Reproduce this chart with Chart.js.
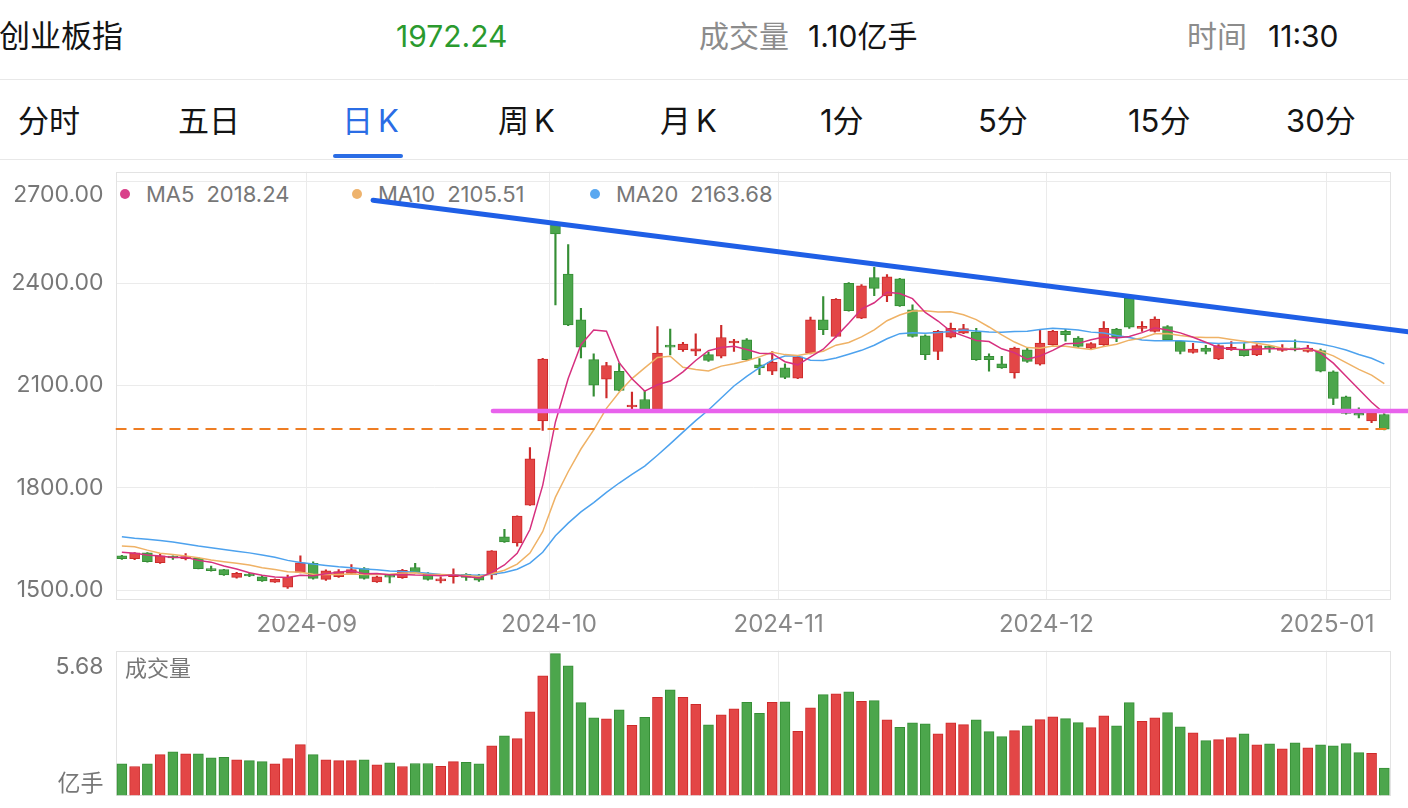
<!DOCTYPE html>
<html>
<head>
<meta charset="UTF-8">
<title>创业板指 日K</title>
<style>
  html, body { margin: 0; padding: 0; background: #fff; }
  body { position: relative; width: 1408px; height: 808px; overflow: hidden;
         font-family: Inter, "Noto Sans CJK SC", sans-serif; color: #141414; }
  .txt { position: absolute; white-space: nowrap; line-height: 1; }
  .head { top: 21px; font-size: 30px; }
  .gray { color: #8c8c8c; }
  .tab { top: 105px; font-size: 31px; }
  .rule { position: absolute; left: 0; width: 1408px; height: 1px; background: #e8e8e8; }
  .lg { position: absolute; top: 183px; height: 22px; display: flex; align-items: center;
        font-size: 22px; line-height: 22px; color: #777; white-space: nowrap; }
  .lg i { width: 10px; height: 10px; border-radius: 50%; margin-right: 16px; }
  .lg b { font-weight: normal; margin-left: 12px; }
  canvas { position: absolute; left: 0; }
</style>
</head>
<body>
	<!-- 상단 정보 -->
	<div class="txt head" style="left:-1px; top:20px; font-size:31px">创业板指</div>
	<div class="txt head" id="price" style="left:396px; color:#2b9a2e"></div>
	<div class="txt head gray" style="left:699px">成交量</div>
	<div class="txt head" id="vol" style="left:808px"></div>
	<div class="txt head gray" style="left:1187px">时间</div>
	<div class="txt head" style="left:1268px">11:30</div>
	<div class="rule" style="top:79px"></div>

	<!-- 탭 -->
	<div class="txt tab" style="left:18px">分时</div>
	<div class="txt tab" style="left:178px">五日</div>
	<div class="txt tab" style="left:342px; color:#2b6de5">日<span style="margin-left:5px">K</span></div>
	<div class="txt tab" style="left:498px">周<span style="margin-left:5px">K</span></div>
	<div class="txt tab" style="left:660px">月<span style="margin-left:5px">K</span></div>
	<div class="txt tab" style="left:820px">1分</div>
	<div class="txt tab" style="left:978px">5分</div>
	<div class="txt tab" style="left:1128px">15分</div>
	<div class="txt tab" style="left:1286px">30分</div>
	<div style="position:absolute; left:333px; top:154px; width:70px; height:4px; border-radius:2px; background:#2b6de5"></div>
	<div class="rule" style="top:159px"></div>

	<!-- 범례 (캔버스 뒤) -->
	<div class="lg" style="left:120px"><i style="background:#d9408a"></i><span>MA5</span><b id="m5"></b></div>
	<div class="lg" style="left:352px"><i style="background:#eeb36d"></i><span>MA10</span><b id="m10"></b></div>
	<div class="lg" style="left:590px"><i style="background:#5aa8f0"></i><span>MA20</span><b id="m20"></b></div>

	<script src="https://cdn.jsdelivr.net/npm/chart.js"></script>

	<canvas id="kc" width="1408" height="480" style="top:160px"></canvas>
	<canvas id="vc" width="1408" height="168" style="top:640px"></canvas>
	<div class="txt" style="left:125px; top:657px; font-size:22px; color:#777">成交量</div>

	<script>
		// 월 구분 (첫 거래일 인덱스)
		const monthLabels = ['2024-09', '2024-10', '2024-11', '2024-12', '2025-01'];
		const monthStart = [15, 34, 52, 73, 95];
		const priceTicks = [1500, 1800, 2100, 2400, 2700];

		// 일봉 OHLC
		const open = [1600,1592,1609,1580,1597,1592,1593,1562,1560,1537,
			1547,1539,1523,1508,1552,1578,1531,1539,1549,1563,
			1524,1541,1536,1566,1549,1527,1539,1546,1541,1544,
			1656,1638,1749,1996,2572,2427,2293,2176,2119,2142,
			2037,2059,2030,2218,2205,2201,2191,2186,2225,2234,
			2161,2142,2152,2122,2195,2293,2244,2400,2298,2417,
			2363,2413,2322,2246,2200,2242,2254,2257,2186,2164,
			2137,2205,2163,2220,2259,2239,2210,2220,2266,2356,
			2268,2259,2273,2230,2197,2210,2178,2205,2205,2190,
			2215,2203,2210,2200,2203,2140,2067,2018,1996,2015];
		const high = [1602,1610,1610,1605,1600,1607,1596,1570,1561,1552,
			1550,1543,1533,1544,1600,1583,1559,1560,1575,1566,
			1541,1544,1561,1578,1551,1539,1562,1548,1546,1616,
			1678,1718,1918,2180,2578,2514,2327,2193,2168,2166,
			2081,2086,2273,2266,2227,2252,2198,2277,2236,2238,
			2179,2200,2164,2186,2301,2361,2355,2402,2396,2447,
			2426,2415,2337,2249,2262,2283,2280,2268,2193,2186,
			2213,2209,2262,2262,2265,2244,2226,2288,2268,2358,
			2288,2302,2276,2232,2224,2218,2220,2229,2223,2220,
			2218,2220,2234,2218,2207,2143,2069,2035,2022,2017];
		const low = [1590,1589,1582,1578,1590,1588,1562,1555,1543,1535,
			1539,1525,1522,1505,1550,1532,1528,1537,1547,1532,
			1522,1521,1534,1550,1529,1521,1520,1528,1525,1532,
			1640,1629,1748,1968,2337,2276,2181,2069,2064,2084,
			2030,2028,2028,2190,2200,2188,2171,2181,2200,2174,
			2132,2132,2120,2120,2193,2249,2242,2318,2296,2364,
			2346,2332,2242,2176,2176,2240,2252,2174,2142,2150,
			2122,2168,2160,2218,2230,2212,2208,2218,2229,2268,
			2259,2257,2232,2193,2195,2193,2176,2203,2186,2188,
			2197,2200,2202,2198,2140,2044,2016,2005,1991,1970];
		const close = [1592,1609,1583,1600,1594,1595,1563,1557,1544,1549,
			1541,1527,1531,1537,1580,1534,1556,1554,1560,1534,
			1539,1538,1558,1552,1531,1532,1546,1537,1529,1615,
			1641,1717,1885,2178,2545,2278,2213,2101,2159,2086,
			2042,2030,2195,2213,2222,2208,2174,2241,2230,2176,
			2152,2168,2124,2184,2293,2264,2353,2320,2393,2385,
			2419,2334,2244,2191,2259,2268,2267,2176,2176,2152,
			2210,2171,2225,2259,2249,2215,2223,2268,2242,2271,
			2273,2295,2234,2200,2207,2200,2217,2212,2188,2217,
			2210,2210,2205,2210,2142,2062,2018,2013,2020,1972.24];

		// 이동평균선
		const ma5 = [1611,1608,1603,1600,1595.6,1596.2,1587,1581.8,1570.6,1561.6,
			1550.8,1543.6,1538.4,1537,1543.2,1541.8,1547.6,1552.2,1556.8,1547.6,
			1548.6,1545,1545.8,1544.2,1543.6,1542.2,1543.8,1539.6,1535,1551.8,
			1573.6,1607.8,1677.4,1807.2,1993.2,2120.6,2219.8,2263,2259.2,2167.4,
			2120.2,2083.6,2102.4,2113.2,2140.4,2173.6,2202.4,2211.6,2215,2205.8,
			2194.6,2193.4,2170,2160.8,2184.2,2206.6,2243.6,2282.8,2324.6,2343,
			2374,2370.2,2355,2314.6,2289.4,2259.2,2245.8,2232.2,2229.2,2207.8,
			2196.2,2177,2186.8,2203.4,2222.8,2223.8,2234.2,2242.8,2239.4,2243.8,
			2255.4,2269.8,2263,2254.6,2241.8,2227.2,2211.6,2207.2,2204.8,2206.8,
			2208.8,2207.4,2206,2210.4,2195.4,2165.8,2127.4,2089,2051,2018.24];
		const ma10 = [1629,1627,1617,1608,1604,1600,1595,1588,1583,1578.6,
			1573.5,1565.3,1560.1,1553.8,1552.4,1546.3,1545.6,1545.3,1546.9,1545.4,
			1545.2,1546.3,1549,1550.5,1545.6,1545.4,1544.4,1542.7,1539.6,1547.7,
			1557.9,1575.8,1608.5,1671.1,1772.5,1847.1,1913.8,1970.2,2033.2,2080.3,
			2120.4,2151.7,2182.7,2186.2,2153.9,2146.9,2143,2157,2164.1,2173.1,
			2184.1,2197.9,2190.8,2187.9,2195,2200.6,2218.5,2226.4,2242.7,2263.6,
			2290.3,2306.9,2318.9,2319.6,2316.2,2316.6,2308,2293.6,2271.9,2248.6,
			2227.7,2211.4,2209.5,2216.3,2215.3,2210,2205.6,2214.8,2221.4,2233.3,
			2239.6,2252,2252.9,2247,2242.8,2241.3,2240.7,2235.1,2229.7,2224.3,
			2218,2209.5,2206.6,2207.6,2201.1,2187.3,2167.4,2147.5,2130.7,2105.51];
		const ma20 = [1656,1652,1649,1645,1641,1635,1629,1624,1619,1614,
			1609,1603,1596,1587,1581,1576,1572,1568,1565,1562,
			1559.4,1555.8,1554.6,1552.2,1549,1545.9,1545,1544,1543.3,1546.6,
			1551.6,1561.1,1578.8,1610.8,1659.1,1696.3,1729.1,1756.5,1786.4,1814,
			1839.2,1863.8,1895.6,1928.7,1963.2,1997,2028.4,2063.6,2098.7,2126.7,
			2152.3,2174.8,2186.8,2187.1,2174.5,2173.8,2180.8,2191.7,2203.4,2218.4,
			2237.2,2252.4,2254.9,2253.8,2255.6,2258.6,2263.3,2260,2257.3,2256.1,
			2259,2259.2,2264.2,2268,2265.8,2263.3,2256.8,2254.2,2246.7,2241,
			2233.7,2231.7,2231.2,2231.7,2229.1,2225.7,2223.2,2225,2225.6,2228.8,
			2228.8,2230.8,2229.8,2227.3,2222,2214.3,2204.1,2191.3,2180.2,2163.68];

		// 거래량 (억 수)
		const volume = [1.27,1.16,1.27,1.64,1.75,1.67,1.67,1.51,1.53,1.43,
			1.40,1.36,1.27,1.48,2.04,1.64,1.43,1.40,1.40,1.43,
			1.23,1.31,1.16,1.28,1.28,1.17,1.36,1.33,1.27,1.99,
			2.39,2.28,3.35,4.79,5.68,5.19,3.72,3.11,3.07,3.43,
			2.81,3.13,3.93,4.23,3.93,3.65,2.83,3.23,3.47,3.73,
			3.29,3.73,3.75,2.57,3.51,4.04,4.07,4.15,3.77,3.80,
			3.03,2.73,2.91,2.87,2.47,2.91,2.84,3.03,2.56,2.36,
			2.60,2.79,3.04,3.15,3.08,2.92,2.72,3.19,2.79,3.72,
			2.97,3.11,3.32,2.75,2.51,2.20,2.24,2.32,2.47,2.03,
			2.07,1.87,2.11,1.91,2.03,1.99,2.08,1.72,1.69,1.10];

		// 손으로 그은 추세선 (x = 봉 인덱스)
		const trendX = [19.7, 100.9];
		const trendY = [2644, 2258];
		const supportX = [29.1, 100.9];
		const supportY = [2025, 2025];

		const FONT = 'Inter, "Noto Sans CJK SC", sans-serif';
		const RED = '#e34646', RED_EDGE = '#cd2a2a';
		const GREEN = '#4ca64c', GREEN_EDGE = '#358e35';
		const GRID = '#ebebeb';

		const n = close.length;
		const lastPrice = close[n - 1];
		const isUp = i => close[i] >= open[i];
		const xy = arr => arr.map((y, i) => ({ x: i, y: y }));
		const pair = (xs, ys) => xs.map((x, i) => ({ x: x, y: ys[i] }));

		document.getElementById('price').textContent = lastPrice.toFixed(2);
		document.getElementById('vol').textContent = volume[n - 1].toFixed(2) + '亿手';
		document.getElementById('m5').textContent = ma5[n - 1].toFixed(2);
		document.getElementById('m10').textContent = ma10[n - 1].toFixed(2);
		document.getElementById('m20').textContent = ma20[n - 1].toFixed(2);

		// 차트 영역 테두리
		const frame = {
			id: 'frame',
			beforeDatasetsDraw(chart) {
				const a = chart.chartArea;
				const c = chart.ctx;
				c.save();
				c.strokeStyle = '#e3e3e3';
				c.lineWidth = 1;
				c.strokeRect(Math.round(a.left) + 0.5, Math.round(a.top) + 0.5,
					Math.round(a.right - a.left) - 1, Math.round(a.bottom - a.top) - 1);
				c.restore();
			}
		};

		// 축 라벨이 차트 영역을 밀어내지 않도록
		function fixY(s) {
			s.width = 115.5;
			s.paddingTop = 0;
			s.paddingBottom = 0;
		}

		function xScale(showLabels) {
			return {
				type: 'linear', min: -0.5, max: n - 0.5, offset: false,
				afterBuildTicks: s => { s.ticks = monthStart.map(v => ({ value: v - 0.5 })); },
				afterFit: s => { s.height = showLabels ? 40 : 0; s.paddingLeft = 0; s.paddingRight = 0; },
				grid: { color: GRID, drawTicks: false, offset: false },
				border: { display: false },
				ticks: {
					display: showLabels, autoSkip: false, maxRotation: 0, padding: 10,
					color: '#888', font: { family: FONT, size: 24 },
					callback: (v, i) => monthLabels[i]
				}
			};
		}

		const common = {
			responsive: false,
			animation: false,
			events: [],
			devicePixelRatio: 1,
			plugins: { legend: { display: false }, tooltip: { enabled: false } }
		};

		const lineDs = (label, data, color, width, order) => ({
			type: 'line', label: label, data: data, borderColor: color, borderWidth: width,
			pointRadius: 0, tension: 0, order: order
		});

		// 가격 차트
		new Chart(document.getElementById('kc'), {
			type: 'bar',
			data: {
				datasets: [
					Object.assign(lineDs('trend', pair(trendX, trendY), '#1f5fe6', 5, 0), { clip: false, borderCapStyle: 'round' }),
					Object.assign(lineDs('support', pair(supportX, supportY), '#e862ec', 4.5, 1), { clip: false, borderCapStyle: 'round' }),
					Object.assign(lineDs('last', [{ x: -0.5, y: lastPrice }, { x: n - 0.5, y: lastPrice }], '#ee7d23', 2, 2), { borderDash: [11, 7] }),
					lineDs('MA5', xy(ma5), '#d6307f', 1.5, 3),
					lineDs('MA10', xy(ma10), '#efb266', 1.5, 4),
					lineDs('MA20', xy(ma20), '#4da2ee', 1.5, 5),
					{
						label: 'body', order: 6, grouped: false, barThickness: 10, minBarLength: 2,
						data: open.map((o, i) => ({ x: i, y: [Math.min(o, close[i]), Math.max(o, close[i])] })),
						backgroundColor: ctx => isUp(ctx.dataIndex) ? RED : GREEN,
						borderColor: ctx => isUp(ctx.dataIndex) ? RED_EDGE : GREEN_EDGE,
						borderWidth: 1, borderSkipped: false
					},
					{
						label: 'wick', order: 7, grouped: false, barThickness: 1.5,
						data: low.map((l, i) => ({ x: i, y: [l, high[i]] })),
						backgroundColor: ctx => isUp(ctx.dataIndex) ? RED_EDGE : GREEN_EDGE
					}
				]
			},
			options: Object.assign({}, common, {
				layout: { padding: { top: 11.7, right: 17.3, left: 0, bottom: 0 } },
				scales: {
					x: xScale(true),
					y: {
						min: 1470.7, max: 2727.6,
						afterBuildTicks: s => { s.ticks = priceTicks.map(v => ({ value: v })); },
						afterFit: fixY,
						grid: { color: GRID, drawTicks: false },
						border: { display: false },
						ticks: {
							padding: 12, color: '#777', font: { family: FONT, size: 23, lineHeight: 1.2 },
							callback: (v, i, t) => i === t.length - 1 ? ['', v.toFixed(2)] : v.toFixed(2)
						}
					}
				}
			}),
			plugins: [frame]
		});

		// 거래량 차트
		new Chart(document.getElementById('vc'), {
			type: 'bar',
			data: {
				datasets: [{
					label: 'volume', data: xy(volume), barThickness: 10,
					backgroundColor: ctx => isUp(ctx.dataIndex) ? RED : GREEN,
					borderColor: ctx => isUp(ctx.dataIndex) ? RED_EDGE : GREEN_EDGE,
					borderWidth: 1
				}]
			},
			options: Object.assign({}, common, {
				layout: { padding: { top: 10.7, right: 17.3, left: 0, bottom: 12.5 } },
				scales: {
					x: xScale(false),
					y: {
						min: 0, max: 5.8,
						afterBuildTicks: s => { s.ticks = [{ value: 0 }, { value: s.max }]; },
						afterFit: fixY,
						grid: { display: false, drawTicks: false },
						border: { display: false },
						ticks: {
							padding: 12, color: '#777',
							font: c => ({ family: FONT, size: 23, lineHeight: c.index === 0 ? 0.95 : 1.4 }),
							callback: (v, i) => i === 0 ? ['亿手', ''] : ['', Math.max(...volume).toFixed(2)]
						}
					}
				}
			}),
			plugins: [frame]
		});
	</script>
</body>
</html>
